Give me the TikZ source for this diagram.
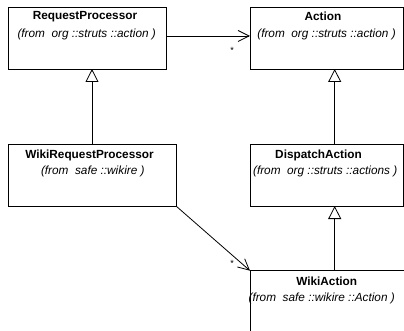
\documentclass[tikz,border=0pt]{standalone}
\usepackage{fontspec}
\setmainfont{Liberation Sans}
\usetikzlibrary{arrows.meta}
\tikzset{
  classbox/.style={draw, line width=0.8pt, rectangle, inner sep=0pt, outer sep=0pt, anchor=north west},
  ctitle/.style={font=\fontsize{11.8}{13}\selectfont\bfseries, inner sep=0pt},
  cfrom/.style={font=\fontsize{11.8}{13}\selectfont\itshape, inner sep=0pt},
  gen/.style={line width=0.8pt, -{Triangle[open, length=13pt, width=13pt, fill=white]}},
  assoc/.style={line width=0.8pt, -{Straight Barb[length=11pt, width=11pt]}},
  mult/.style={font=\fontsize{9}{10}\selectfont, inner sep=0pt}
}
\begin{document}
\begin{tikzpicture}[x=1pt, y=-1pt]
\useasboundingbox (0,0) rectangle (404,331);
\clip (0,0) rectangle (404,331);
% boxes
\node[classbox, minimum width=158pt, minimum height=62pt] (rp) at (8,7) {};
\node[classbox, minimum width=153pt, minimum height=62pt] (act) at (250,7) {};
\node[classbox, minimum width=168pt, minimum height=62pt] (wrp) at (8,144) {};
\node[classbox, minimum width=153pt, minimum height=62pt] (da) at (250,144) {};
\node[classbox, minimum width=180pt, minimum height=80pt] (wa) at (250,270.7) {};
% texts
\node[ctitle] (rpt) at (85,16.7) {RequestProcessor};
\node[cfrom] (rpf) at (86.7,34.3) {(from\ \ org ::struts ::action )};
\node[ctitle] (actt) at (323,16.7) {Action};
\node[cfrom] (actf) at (326.5,34.3) {(from\ \ org ::struts ::action )};
\node[ctitle] (wrpt) at (89.5,155) {WikiRequestProcessor};
\node[cfrom] (wrpf) at (92.8,171.7) {(from\ \ safe ::wikire )};
\node[ctitle] (dat) at (318.5,155) {DispatchAction};
\node[cfrom] (daf) at (325.2,171.7) {(from\ \ org ::struts ::actions )};
\node[ctitle] (wat) at (326.7,281.7) {WikiAction};
\node[cfrom] (waf) at (321.7,298.3) {(from\ \ safe ::wikire ::Action )};
% connector coordinates
\coordinate (g2) at (334.7,144);
\coordinate (g3) at (334.7,270.7);
\coordinate (a1) at (166,36);
% generalizations
\draw[gen] (wrp.north) -- (wrp.north |- rp.south);
\draw[gen] (g2) -- (g2 |- act.south);
\draw[gen] (g3) -- (g3 |- da.south);
% associations
\draw[assoc] (a1) -- (a1 -| act.west);
\draw[assoc] (wrp.south east) -- (wa.north west);
\node[mult] (m1) at (232,50) {*};
\node[mult] (m2) at (232,263) {*};
\end{tikzpicture}
\end{document}
